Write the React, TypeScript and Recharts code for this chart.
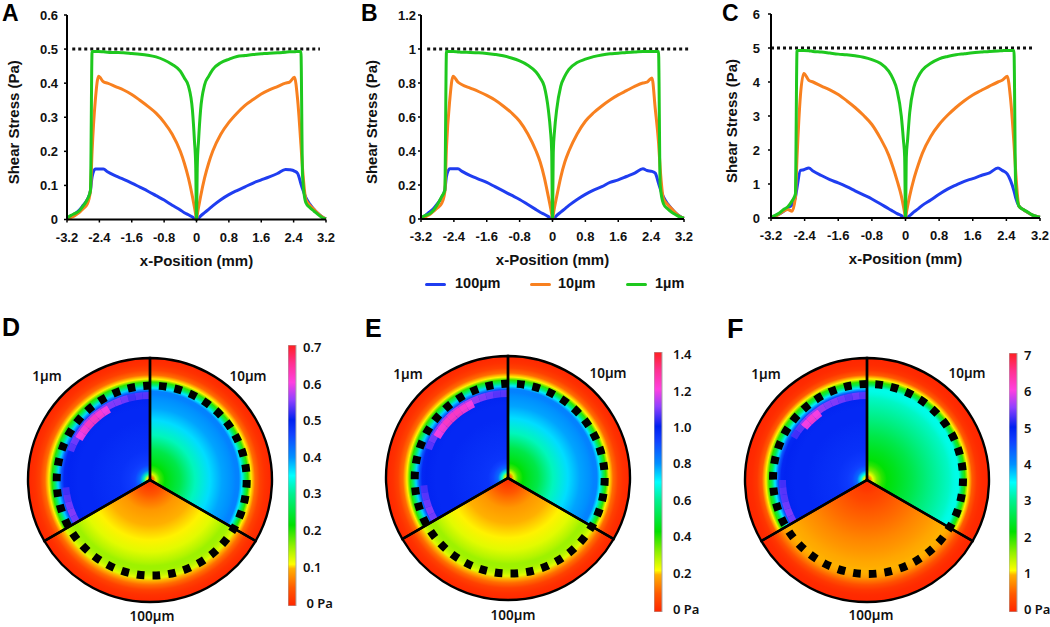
import React from 'react';
import { LineChart, Line, XAxis, YAxis, ReferenceLine, Legend, PieChart, Pie, Cell, BarChart, Bar } from 'recharts';

// ---------- line chart data ----------
const xPositions = [-3.2,-3.1,-3.0,-2.9,-2.8,-2.7,-2.62,-2.58,-2.5,-2.42,-2.3,-2.2,-2.0,-1.8,-1.6,-1.4,-1.2,-1.0,-0.8,-0.6,-0.4,-0.3,-0.2,-0.1,-0.05,-0.02,0,
  0.02,0.05,0.1,0.2,0.3,0.4,0.6,0.8,1.0,1.2,1.4,1.6,1.8,2.0,2.2,2.3,2.42,2.5,2.58,2.62,2.7,2.8,2.9,3.0,3.1,3.2];
const xTicks = [-3.2,-2.4,-1.6,-0.8,0,0.8,1.6,2.4,3.2];

const aBlue = [.002,.01,.017,.027,.042,.058,.085,.125,.148,.148,.148,.14,.128,.118,.107,.095,.083,.07,.057,.042,.028,.02,.014,.007,.003,.001,0,
  .002,.004,.01,.02,.03,.04,.058,.073,.085,.096,.107,.116,.125,.135,.147,.146,.142,.135,.105,.09,.065,.045,.03,.018,.008,.002];
const aOrange = [0,.006,.012,.02,.032,.045,.085,.2,.35,.42,.404,.40,.39,.38,.367,.35,.332,.312,.285,.25,.2,.165,.122,.067,.035,.015,0,
  .015,.035,.067,.122,.165,.2,.25,.285,.312,.335,.352,.368,.38,.39,.40,.403,.417,.35,.22,.15,.06,.042,.03,.018,.008,.002];
const aGreen = [.004,.012,.018,.025,.04,.058,.085,.493,.493,.493,.492,.491,.490,.489,.487,.485,.482,.477,.468,.455,.435,.415,.392,.32,.23,.16,0,
  .16,.23,.32,.395,.42,.44,.46,.47,.478,.481,.484,.486,.488,.489,.491,.492,.492,.493,.493,.130,.050,.035,.025,.015,.006,.002];

const bBlue = [.005,.02,.04,.06,.09,.125,.17,.25,.295,.295,.295,.28,.255,.235,.215,.19,.165,.14,.115,.085,.055,.04,.028,.014,.006,.002,0,
  .004,.008,.02,.04,.06,.08,.115,.145,.17,.19,.215,.23,.25,.27,.295,.285,.28,.27,.21,.18,.13,.09,.06,.035,.016,.004];
const bOrange = [0,.012,.025,.045,.065,.09,.16,.42,.7,.84,.805,.79,.77,.75,.727,.70,.665,.625,.575,.50,.40,.335,.245,.13,.07,.03,0,
  .03,.07,.13,.245,.335,.40,.50,.575,.625,.665,.70,.73,.755,.78,.80,.805,.83,.65,.45,.3,.12,.085,.06,.035,.015,.004];
const bGreen = [.008,.02,.03,.05,.085,.13,.17,.985,.985,.985,.983,.981,.98,.978,.974,.968,.96,.947,.93,.905,.865,.83,.78,.64,.52,.4,0,
  .4,.52,.64,.78,.84,.88,.92,.94,.955,.965,.972,.975,.98,.982,.985,.985,.985,.985,.985,.2,.09,.06,.04,.025,.012,.005];

const cBlue = [.01,.06,.12,.2,.3,.38,.6,.9,1.4,1.42,1.47,1.38,1.25,1.13,1.03,.92,.8,.68,.56,.42,.27,.2,.13,.07,.03,.01,0,
  .01,.03,.07,.18,.27,.37,.53,.7,.85,.97,1.08,1.16,1.25,1.33,1.47,1.4,1.3,1.1,.8,.6,.35,.25,.17,.1,.05,.02];
const cOrange = [0,.05,.12,.2,.25,.2,.6,1.8,3.6,4.25,4.05,4.0,3.88,3.77,3.63,3.45,3.25,3.02,2.75,2.35,1.85,1.5,1.1,.65,.35,.15,0,
  .15,.35,.65,1.15,1.55,1.9,2.4,2.75,3.02,3.25,3.45,3.62,3.75,3.88,4.0,4.05,4.17,3.5,2.2,1.4,.35,.25,.17,.1,.05,.02];
const cGreen = [.03,.08,.15,.25,.33,.5,.7,4.93,4.93,4.93,4.92,4.9,4.88,4.85,4.82,4.8,4.77,4.73,4.66,4.55,4.32,4.1,3.75,3.0,2.3,1.8,0,
  1.8,2.3,3.1,3.85,4.15,4.35,4.55,4.68,4.75,4.8,4.83,4.86,4.88,4.9,4.91,4.92,4.93,4.93,4.93,1.0,.35,.25,.18,.1,.05,.02];

const aTicks = [0,0.1,0.2,0.3,0.4,0.5,0.6];
const bTicks = [0,0.2,0.4,0.6,0.8,1,1.2];
const cTicks = [0,1,2,3,4,5,6];

const seriesNames = ['100µm','10µm','1µm'];
const seriesColors = ['#1f3df0','#f8801f','#1ec81e'];

// ---------- disc data: radial profile of stress (Pa) per sector ----------
const radialSteps = [0,3,6,10,15,20,30,45,60,72,82,86,89,92,95,98,101,105,110,115,122];
const sectorNames = ['1µm','100µm','10µm'];
const sectorShares = [1,1,1];

const d1um = [.05,.12,.32,.42,.46,.47,.48,.485,.49,.49,.495,.49,.44,.37,.28,.2,.11,.06,.025,.01,0];
const d10um = [.02,.06,.13,.19,.22,.235,.26,.32,.365,.39,.40,.41,.41,.36,.28,.2,.11,.06,.025,.01,0];
const d100um = [.005,.01,.02,.03,.045,.06,.085,.1,.11,.125,.145,.155,.155,.15,.14,.125,.1,.06,.025,.01,0];

const e1um = [.1,.26,.66,.86,.92,.95,.96,.97,.98,.98,.99,.98,.88,.74,.56,.4,.22,.12,.05,.02,0];
const e10um = [.04,.12,.26,.38,.44,.47,.52,.64,.73,.78,.8,.82,.82,.72,.56,.4,.22,.12,.05,.02,0];
const e100um = [.01,.02,.04,.06,.09,.12,.17,.2,.22,.25,.29,.31,.31,.3,.28,.25,.2,.12,.05,.02,0];

const f1um = [.5,1.2,3.4,4.3,4.6,4.7,4.8,4.85,4.9,4.9,4.95,4.9,4.4,3.6,2.7,2,1.1,.5,.15,.05,0];
const f10um = [.3,.7,1.2,1.7,2.0,2.2,2.35,2.6,2.9,3.1,3.25,3.35,3.4,3.4,2.7,2,1.1,.5,.15,.05,0];
const f100um = [.05,.08,.12,.17,.25,.3,.45,.6,.75,.85,.95,.97,1,1,.95,.85,.65,.4,.15,.05,0];

// wall hot-spots in the 1µm sector, every 5 degrees (0 = none)
const dSpots = [.54,.54,.53,.55,.56,.56,.56,.58,.58,.58,.57,.56,.55,.54,0,0,0,0,0,.53,.54,.55,.56,.55];
const eSpots = [1.08,1.08,1.1,1.12,1.14,1.16,1.16,1.18,1.18,1.16,1.14,1.12,1.1,1.08,0,0,0,0,0,1.06,1.08,1.1,1.12,1.1];
const fSpots = [5.4,5.5,5.4,5.5,5.6,5.6,5.7,5.7,5.7,5.6,5.4,5.3,0,0,0,0,0,0,5.3,5.4,5.4,5.5,5.6,5.5];
const dCore = [0,0,0,0,0,0,.6,.61,.62,.62,.61,.6,0,0,0,0,0,0,0,0,0,0,0,0];
const eCore = [0,0,0,0,0,1.2,1.22,1.24,1.24,1.24,1.22,1.2,0,0,0,0,0,0,0,0,0,0,0,0];
const fCore = [0,0,0,0,0,0,0,6,6.1,6,0,0,0,0,0,0,0,0,0,0,0,0,0,0];

// colour scale: fraction of the bar, colour
const scaleFractions = [0,.07,.143,.16,.23,.31,.43,.5,.57,.66,.714,.79,.857,.93,1];
const scaleColors = ['#ff2600','#ff5a00','#ffb000','#ffff00','#90f000','#00e000','#00f090','#00ffff','#0090ff','#1040ff','#0020f0','#9040ff','#ff40e0','#ff3090','#ff2020'];

const dBarTicks = [0,.1,.2,.3,.4,.5,.6,.7];
const eBarTicks = [0,.2,.4,.6,.8,1,1.2,1.4];
const fBarTicks = [0,1,2,3,4,5,6,7];

const hex = (c: string) => [1,3,5].map(i => parseInt(c.slice(i,i+2),16));
function colorAt(f: number) {
  const t = Math.max(0, Math.min(1, f));
  let i = 0;
  while (i < scaleFractions.length - 2 && t > scaleFractions[i+1]) i++;
  const k = (t - scaleFractions[i]) / (scaleFractions[i+1] - scaleFractions[i]);
  const a = hex(scaleColors[i]), b = hex(scaleColors[i+1]);
  return `rgb(${a.map((v,j) => Math.round(v + (b[j]-v)*k)).join(',')})`;
}

const TICK = { fontFamily: 'Liberation Sans', fontWeight: 700, fontSize: 13, fill: '#111' };
const TITLE = { fontFamily: 'Liberation Sans', fontWeight: 700, fontSize: 15, fill: '#111' };
const NOTE = { fontFamily: '"Noto Sans"', fontWeight: 600, fontSize: 13, fill: '#111' };

function LegendRow() {
  const rows = [{ x: 0, t: 30 }, { x: 105, t: 133 }, { x: 201, t: 230 }];
  return (
    <div style={{ position: 'relative', width: 300, height: 20 }}>
      {seriesNames.map((n, i) => (
        <React.Fragment key={n}>
          <div style={{ position: 'absolute', left: rows[i].x, top: 9, width: 21, height: 3, background: seriesColors[i], borderRadius: 2 }} />
          <div style={{ position: 'absolute', left: rows[i].t, top: 1, ...{ fontFamily: 'Liberation Sans', fontWeight: 700, fontSize: 14.5, color: '#111' } }}>{n}</div>
        </React.Fragment>
      ))}
    </div>
  );
}

type LP = { left: number; width: number; height: number; top: number; yw: number; right: number; bottom: number; blue: number[]; orange: number[]; green: number[]; ticks: number[]; ref: number; refFrom: number; refTo: number; legend?: boolean; titleX: number; tickGap: number };

function LinePanel(p: LP) {
  const rows = xPositions.map((x, i) => ({ x, blue: p.blue[i], orange: p.orange[i], green: p.green[i] }));
  return (
    <div style={{ position: 'absolute', left: p.left, top: 0 }}>
      <LineChart width={p.width} height={p.height} data={rows} margin={{ top: p.top, right: p.right, bottom: p.bottom, left: 0 }}>
        <XAxis dataKey="x" type="number" domain={[-3.2, 3.2]} ticks={xTicks} interval={0} height={50} tick={TICK} tickSize={3}
          axisLine={{ stroke: '#000', strokeWidth: 2 }} tickLine={{ stroke: '#000', strokeWidth: 1.5 }} tickMargin={10}
          label={{ value: 'x-Position (mm)', position: 'insideBottom', offset: 4, style: TITLE }} />
        <YAxis type="number" width={p.yw} domain={[p.ticks[0], p.ticks[6]]} ticks={p.ticks} interval={0} tick={TICK} tickSize={3}
          axisLine={{ stroke: '#000', strokeWidth: 2 }} tickLine={{ stroke: '#000', strokeWidth: 1.5 }} tickMargin={p.tickGap}
          label={{ value: 'Shear Stress (Pa)', angle: -90, position: 'insideLeft', offset: p.titleX, dy: 5, style: { ...TITLE, textAnchor: 'middle' } }} />
        <ReferenceLine segment={[{ x: p.refFrom, y: p.ref }, { x: p.refTo, y: p.ref }]} stroke="#111" strokeWidth={3} strokeDasharray="3 3" ifOverflow="visible" />
        <Line type="monotone" dataKey="blue" name={seriesNames[0]} stroke={seriesColors[0]} strokeWidth={3} dot={false} isAnimationActive={false} />
        <Line type="monotone" dataKey="orange" name={seriesNames[1]} stroke={seriesColors[1]} strokeWidth={3} dot={false} isAnimationActive={false} />
        <Line type="monotone" dataKey="green" name={seriesNames[2]} stroke={seriesColors[2]} strokeWidth={3} dot={false} isAnimationActive={false} />
        {p.legend && <Legend verticalAlign="middle" content={<LegendRow />} wrapperStyle={{ left: 75, top: 274, width: 300, bottom: 'auto' }} />}
      </LineChart>
    </div>
  );
}

const DISC_R = 122;
const DISC_BOX = 130;

function Disc({ cx, cy, dashCx, dashCy, id, maxV, s1, s10, s100, spots, core }: any) {
  const profiles = [s1, s100, s10];
  const sectors = sectorNames.map((name, i) => ({ name, share: sectorShares[i] }));
  const dashes = Array.from({ length: 38 }, (_, i) => [{ k: `d${i}`, v: 4.6, on: true }, { k: `g${i}`, v: 4.874, on: false }]).flat();
  const spotRows = spots.map((v: number, i: number) => ({ k: i, v: 5, s: v }));
  const coreRows = core.map((v: number, i: number) => ({ k: i, v: 5, s: v }));
  return (
    <div style={{ position: 'absolute', left: cx - DISC_BOX, top: cy - DISC_BOX }}>
      <PieChart width={DISC_BOX * 2} height={DISC_BOX * 2} margin={{ top: 0, right: 0, bottom: 0, left: 0 }}>
        <defs>
          {profiles.map((prof: number[], i: number) => (
            <radialGradient key={i} id={`${id}-${i}`} gradientUnits="userSpaceOnUse" cx={DISC_BOX} cy={DISC_BOX} r={DISC_R}>
              {radialSteps.map((r, j) => <stop key={j} offset={r / DISC_R} stopColor={colorAt(prof[j] / maxV)} />)}
            </radialGradient>
          ))}
        </defs>
        <Pie data={sectors} dataKey="share" nameKey="name" cx={DISC_BOX} cy={DISC_BOX} innerRadius={0} outerRadius={DISC_R} startAngle={90} endAngle={450} stroke="none" isAnimationActive={false} legendType="none">
          {sectors.map((s, i) => <Cell key={s.name} fill={`url(#${id}-${i})`} stroke="none" />)}
        </Pie>
        <Pie data={spotRows} dataKey="v" cx={DISC_BOX} cy={DISC_BOX} innerRadius={81} outerRadius={88} startAngle={90} endAngle={210} stroke="none" isAnimationActive={false} legendType="none">
          {spotRows.map((s: any) => <Cell key={s.k} fill={s.s ? colorAt(s.s / maxV) : 'none'} fillOpacity={0.8} stroke="none" />)}
        </Pie>
        <Pie data={coreRows} dataKey="v" cx={DISC_BOX} cy={DISC_BOX} innerRadius={78} outerRadius={86} startAngle={90} endAngle={210} stroke="none" isAnimationActive={false} legendType="none">
          {coreRows.map((s: any) => <Cell key={s.k} fill={s.s ? colorAt(s.s / maxV) : 'none'} fillOpacity={0.9} stroke="none" />)}
        </Pie>
        <Pie data={dashes} dataKey="v" cx={DISC_BOX + dashCx} cy={DISC_BOX + dashCy} innerRadius={91} outerRadius={99} startAngle={90.5} endAngle={450.5} stroke="none" isAnimationActive={false} legendType="none">
          {dashes.map(d => <Cell key={d.k} fill={d.on ? '#000' : 'none'} stroke="none" />)}
        </Pie>
        <Pie data={sectors} dataKey="share" cx={DISC_BOX} cy={DISC_BOX} innerRadius={0} outerRadius={DISC_R} startAngle={90} endAngle={450} isAnimationActive={false} legendType="none">
          {sectors.map(s => <Cell key={s.name} fill="none" stroke="#000" strokeWidth={2.4} />)}
        </Pie>
      </PieChart>
    </div>
  );
}

const BAR_PAD = 12;

function ColorBar({ left, top, height, ticks, id, fmt, gap }: any) {
  const maxV = ticks[ticks.length - 1];
  const pad = maxV * 0.01;
  const rows = [{ n: 'scale', range: [-pad, maxV + pad] }];
  return (
    <div style={{ position: 'absolute', left, top: top - BAR_PAD }}>
      <BarChart width={48} height={height + BAR_PAD * 2} data={rows} margin={{ top: BAR_PAD, right: 0, bottom: BAR_PAD, left: 0 }} barCategoryGap={0}>
        <defs>
          <linearGradient id={id} x1="0" y1="1" x2="0" y2="0">
            {scaleFractions.map((f, i) => <stop key={i} offset={f} stopColor={scaleColors[i]} />)}
          </linearGradient>
        </defs>
        <XAxis dataKey="n" hide />
        <YAxis orientation="right" width={40} type="number" domain={[-pad, maxV + pad]} allowDataOverflow ticks={ticks} interval={0}
          axisLine={false} tickLine={false} tickSize={0} tick={NOTE} tickMargin={gap} tickFormatter={fmt} />
        <Bar dataKey="range" fill={`url(#${id})`} stroke="#aaa" strokeWidth={1} isAnimationActive={false} />
      </BarChart>
    </div>
  );
}

const fmtD = (v: number) => (v === 0 ? '\u00A00 Pa' : String(v));
const fmtE = (v: number) => (v === 0 ? '0 Pa' : v.toFixed(1));
const fmtF = (v: number) => (v === 0 ? '0 Pa' : String(v));

const letters = [
  { t: 'A', x: 2, y: 0, s: 23 }, { t: 'B', x: 361, y: 0, s: 23 }, { t: 'C', x: 722, y: 0, s: 23 },
  { t: 'D', x: 2, y: 313, s: 25 }, { t: 'E', x: 365, y: 314, s: 25 }, { t: 'F', x: 727, y: 314, s: 27 },
];
const notes = [
  { t: '1µm', x: 47, y: 376 }, { t: '10µm', x: 248, y: 376 }, { t: '100µm', x: 152, y: 616 },
  { t: '1µm', x: 408, y: 374 }, { t: '10µm', x: 608, y: 373 }, { t: '100µm', x: 513, y: 615 },
  { t: '1µm', x: 766, y: 374 }, { t: '10µm', x: 967, y: 373 }, { t: '100µm', x: 871, y: 615 },
];

export default function App() {
  return (
    <div style={{ position: 'absolute', left: 0, top: 0, width: 1050, height: 627, overflow: 'hidden', background: '#fff' }}>
      <LinePanel left={0} width={350} height={300} top={15} yw={67} right={24} bottom={30.5} blue={aBlue} orange={aOrange} green={aGreen} ticks={aTicks} ref={0.5} refFrom={-3.07} refTo={3.05} titleX={14} tickGap={6} />
      <LinePanel left={350} width={350} height={300} top={15} yw={71} right={16} bottom={31} blue={bBlue} orange={bOrange} green={bGreen} ticks={bTicks} ref={1} refFrom={-3.05} refTo={3.3} legend titleX={22} tickGap={2} />
      <LinePanel left={700} width={350} height={300} top={14} yw={71} right={10} bottom={32} blue={cBlue} orange={cOrange} green={cGreen} ticks={cTicks} ref={5} refFrom={-3.2} refTo={3.08} titleX={32} tickGap={8} />

      <Disc id="gd" cx={150} cy={480} dashCx={1.7} dashCy={0.6} maxV={0.7} s1={d1um} s10={d10um} s100={d100um} spots={dSpots} core={dCore} />
      <Disc id="ge" cx={508} cy={478} dashCx={1.7} dashCy={0.6} maxV={1.4} s1={e1um} s10={e10um} s100={e100um} spots={eSpots} core={eCore} />
      <Disc id="gf" cx={867} cy={480} dashCx={1} dashCy={-1} maxV={7} s1={f1um} s10={f10um} s100={f100um} spots={fSpots} core={fCore} />

      <ColorBar id="bd" left={288} top={345} height={261} ticks={dBarTicks} fmt={fmtD} gap={7} />
      <ColorBar id="be" left={654} top={352} height={260} ticks={eBarTicks} fmt={fmtE} gap={11} />
      <ColorBar id="bf" left={1009} top={353} height={259} ticks={fBarTicks} fmt={fmtF} gap={7} />

      {letters.map(l => (
        <div key={l.t} style={{ position: 'absolute', left: l.x, top: l.y, fontFamily: 'Liberation Sans', fontWeight: 700, fontSize: l.s, color: '#000' }}>{l.t}</div>
      ))}
      {notes.map((n, i) => (
        <div key={i} style={{ position: 'absolute', left: n.x, top: n.y, transform: 'translate(-50%,-50%)', fontFamily: '"Noto Sans"', fontWeight: 600, fontSize: 13.5, color: '#111', whiteSpace: 'nowrap' }}>{n.t}</div>
      ))}
    </div>
  );
}
